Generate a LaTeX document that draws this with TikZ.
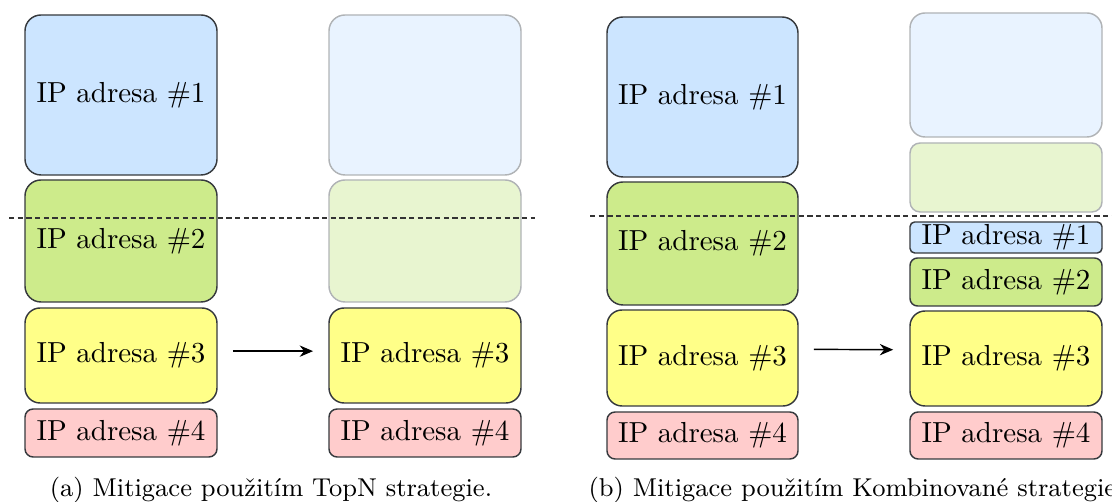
\documentclass[tikz,border=0pt]{standalone}
\usetikzlibrary{arrows.meta}
\definecolor{blueF}{HTML}{CCE5FF}
\definecolor{greenF}{HTML}{CDEB8B}
\definecolor{yellowF}{HTML}{FFFF88}
\definecolor{pinkF}{HTML}{FFCCCC}
\definecolor{strokeC}{HTML}{36393D}
\definecolor{fblueF}{HTML}{E9F3FF}
\definecolor{fgreenF}{HTML}{E8F5D0}
\definecolor{fstrokeC}{HTML}{B0B3B6}
\newcommand{\bx}[8]{\node[#6, rounded corners=#8, minimum width={(#4-#2)*0.345pt}, minimum height={(#5-#3)*0.345pt}] (#1) at ({(#2+#4)/2},{(#3+#5)/2}) {#7};}
\begin{document}
\begin{tikzpicture}[x=0.345pt, y=-0.345pt,
  box/.style={draw=strokeC, line width=0.5pt, inner sep=0pt, outer sep=0pt, font=\fontsize{10}{12}\selectfont},
  fbox/.style={draw=fstrokeC, line width=0.5pt, inner sep=0pt, outer sep=0pt},
  cutline/.style={draw=black!80, line width=0.4pt, dash pattern=on 1.8pt off 1.2pt},
  arr/.style={draw=black, line width=0.5pt, -{Stealth[length=4.6pt,width=3.9pt,inset=1.5pt]}},
  captxt/.style={inner sep=0pt, font=\fontsize{8.9}{11}\selectfont}]
\useasboundingbox (0,0) rectangle (1112,502);
% ---- panel (a)
\bx{a1}{25}{15}{217}{175}{box, fill=blueF}{IP adresa \#1}{5.5pt}
\bx{a2}{25}{180}{217}{302}{box, fill=greenF}{IP adresa \#2}{5.5pt}
\bx{a3}{25}{308}{217}{403}{box, fill=yellowF}{IP adresa \#3}{5.2pt}
\bx{a4}{25}{409}{217}{457}{box, fill=pinkF}{IP adresa \#4}{2.8pt}
\bx{ar1}{329}{15}{521}{175}{fbox, fill=fblueF}{}{5.5pt}
\bx{ar2}{329}{180}{521}{302}{fbox, fill=fgreenF}{}{5.5pt}
\bx{ar3}{329}{308}{521}{403}{box, fill=yellowF}{IP adresa \#3}{5.2pt}
\bx{ar4}{329}{409}{521}{457}{box, fill=pinkF}{IP adresa \#4}{2.8pt}
\coordinate (dA1) at (9,218);
\coordinate (dA2) at (535,218);
\draw[cutline] (dA1) -- (dA2);
\draw[arr, shorten <=5.5pt, shorten >=5.5pt] ([yshift=1.5pt]a3.east) -- ([yshift=1.5pt]ar3.west);
\node[captxt, anchor=base] (capa) at (271,497) {(a) Mitigace použitím TopN strategie.};
% ---- panel (b)
\bx{b1}{607}{17}{798}{177}{box, fill=blueF}{IP adresa \#1}{5.5pt}
\bx{b2}{607}{182}{798}{305}{box, fill=greenF}{IP adresa \#2}{5.5pt}
\bx{b3}{607}{310}{798}{406}{box, fill=yellowF}{IP adresa \#3}{5.2pt}
\bx{b4}{607}{412}{798}{459}{box, fill=pinkF}{IP adresa \#4}{2.8pt}
\bx{br1}{910}{13}{1102}{137}{fbox, fill=fblueF}{}{5.2pt}
\bx{br2}{910}{143}{1102}{212}{fbox, fill=fgreenF}{}{3.5pt}
\bx{br3}{910}{222}{1102}{253}{box, fill=blueF}{IP adresa \#1}{1.6pt}
\bx{br4}{910}{258}{1102}{306}{box, fill=greenF}{IP adresa \#2}{2.6pt}
\bx{br5}{910}{311}{1102}{406}{box, fill=yellowF}{IP adresa \#3}{5.2pt}
\bx{br6}{910}{412}{1102}{459}{box, fill=pinkF}{IP adresa \#4}{2.8pt}
\coordinate (dB1) at (590,216);
\coordinate (dB2) at (1116,216);
\draw[cutline] (dB1) -- (dB2);
\draw[arr, shorten <=5.5pt, shorten >=5.8pt] ([yshift=3pt]b3.east) -- ([yshift=3pt]br5.west);
\node[captxt, anchor=base west] (capb) at (588,497) {(b) Mitigace použitím Kombinované strategie.};
\end{tikzpicture}
\end{document}
